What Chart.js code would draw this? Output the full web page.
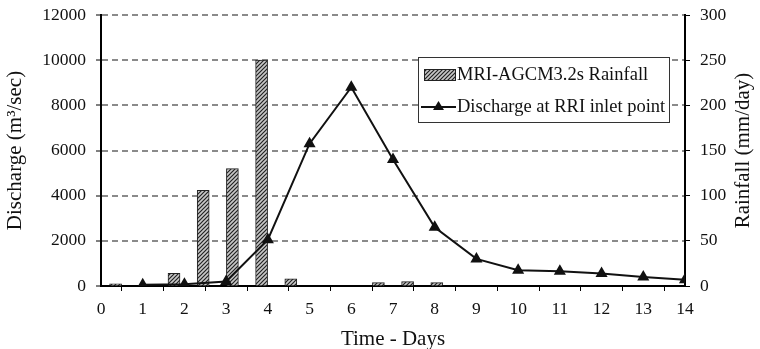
<!DOCTYPE html>
<html>
<head>
<meta charset="utf-8">
<script src="https://cdn.jsdelivr.net/npm/chart.js@4"></script>
<style>
  html, body { margin: 0; padding: 0; background: #fff; }
  #wrap { width: 760px; height: 349px; position: relative; }
</style>
</head>
<body>
<div id="wrap"><canvas id="c" width="760" height="349"></canvas></div>
<script>
// rainfall bars (right axis, mm/day), plotted at fractional days
const rainDays = [0.35, 1.75, 2.45, 3.15, 3.85, 4.55, 6.65, 7.35, 8.05];
const rainfall = [2.5, 14, 106, 130, 250, 8, 3.7, 4.8, 3.7];

// discharge line (left axis, m3/sec)
const dischargeDays = [1, 2, 3, 4, 5, 6, 7, 8, 9, 10, 11, 12, 13, 14];
const discharge = [50, 80, 200, 2050, 6300, 8800, 5600, 2600, 1200, 700, 650, 550, 400, 280];

const rainLabel = 'MRI-AGCM3.2s Rainfall';
const dischargeLabel = 'Discharge at RRI inlet point';
const rightTitle = 'Rainfall (mm/day)';

const serif = "'Liberation Serif', 'DejaVu Serif', serif";
Chart.defaults.font.family = serif;
Chart.defaults.font.size = 17.5;
Chart.defaults.color = '#111';

// hatched fill for the bars
function makeHatch() {
    const p = document.createElement('canvas');
    p.width = 4; p.height = 4;
    const g = p.getContext('2d');
    g.fillStyle = '#c8c8c8';
    g.fillRect(0, 0, 4, 4);
    g.strokeStyle = '#222';
    g.lineWidth = 1.2;
    g.beginPath();
    g.moveTo(0, 4); g.lineTo(4, 0);
    g.moveTo(-1, 1); g.lineTo(1, -1);
    g.moveTo(3, 5); g.lineTo(5, 3);
    g.stroke();
    return g.createPattern(p, 'repeat');
}
const hatch = makeHatch();

const legendBox = {
    id: 'legendBox',
    afterDraw(chart) {
        const ctx = chart.ctx;
        const x0 = 418, y0 = 57, w = 251, h = 65;
        ctx.save();
        ctx.fillStyle = '#fff';
        ctx.fillRect(x0, y0, w, h);
        ctx.strokeStyle = '#333';
        ctx.lineWidth = 1;
        ctx.strokeRect(x0 + 0.5, y0 + 0.5, w, h);

        // rainfall swatch
        ctx.fillStyle = hatch;
        ctx.fillRect(424, 69, 31, 11);
        ctx.strokeStyle = '#222';
        ctx.strokeRect(424.5, 69.5, 31, 11);

        // discharge swatch
        ctx.strokeStyle = '#111';
        ctx.lineWidth = 2;
        ctx.beginPath();
        ctx.moveTo(421, 107); ctx.lineTo(456, 107);
        ctx.stroke();
        ctx.fillStyle = '#111';
        ctx.beginPath();
        ctx.moveTo(438.5, 101); ctx.lineTo(444, 110); ctx.lineTo(433, 110);
        ctx.closePath(); ctx.fill();

        ctx.font = "18.5px " + serif;
        ctx.fillStyle = '#111';
        ctx.textBaseline = 'middle';
        ctx.textAlign = 'left';
        ctx.fillText(rainLabel, 457, 75);
        ctx.fillText(dischargeLabel, 457, 107);

        // right axis title, reading bottom to top
        const ca = chart.chartArea;
        ctx.translate(743, (ca.top + ca.bottom) / 2);
        ctx.rotate(-Math.PI / 2);
        ctx.font = "21px " + serif;
        ctx.textAlign = 'center';
        ctx.fillText(rightTitle, 0, 0);
        ctx.restore();
    }
};

const fitY = w => s => { s.width = w; s.paddingTop = 0; s.paddingBottom = 0; };

new Chart(document.getElementById('c'), {
    type: 'bar',
    data: {
        datasets: [
            {
                type: 'line',
                label: dischargeLabel,
                data: dischargeDays.map((d, i) => ({ x: d, y: discharge[i] })),
                yAxisID: 'y',
                borderColor: '#111',
                backgroundColor: '#111',
                borderWidth: 2,
                pointStyle: 'triangle',
                pointRadius: 5,
                tension: 0,
                order: 0,
            },
            {
                type: 'bar',
                label: rainLabel,
                data: rainDays.map((d, i) => ({ x: d, y: rainfall[i] })),
                yAxisID: 'y1',
                backgroundColor: hatch,
                borderColor: '#222',
                borderWidth: 1,
                barThickness: 12,
                order: 1,
            },
        ],
    },
    options: {
        responsive: false,
        animation: false,
        layout: { padding: { top: 15, left: 0, right: 0, bottom: 0 } },
        plugins: { legend: { display: false }, tooltip: { enabled: false } },
        scales: {
            x: {
                type: 'linear',
                min: 0, max: 14,
                offset: false,
                afterFit: s => { s.height = 63; s.paddingLeft = 0; s.paddingRight = 0; },
                ticks: { stepSize: 1, padding: 8, maxRotation: 0 },
                grid: { drawOnChartArea: false, tickLength: 5, color: '#000' },
                border: { color: '#000', width: 2 },
                title: { display: true, text: 'Time - Days', font: { size: 21 }, padding: { top: 4, bottom: -3 } },
            },
            y: {
                position: 'left',
                min: 0, max: 12000,
                afterFit: fitY(101),
                ticks: { stepSize: 2000, padding: 10, callback: v => String(v) },
                grid: { color: '#8a8a8a', lineWidth: 2, tickLength: 5, tickColor: '#000', tickWidth: 1, tickBorderDash: [] },
                border: { color: '#000', width: 2, dash: [6, 4] },
                title: { display: true, text: 'Discharge (m³/sec)', font: { size: 21 }, padding: { top: 3, bottom: 0 } },
            },
            y1: {
                position: 'right',
                min: 0, max: 300,
                afterFit: fitY(75),
                ticks: { stepSize: 50, padding: 10, callback: v => String(v) },
                grid: { drawOnChartArea: false, tickLength: 5, color: '#000' },
                border: { color: '#000', width: 2 },
            },
        },
    },
    plugins: [legendBox],
});
</script>
</body>
</html>
